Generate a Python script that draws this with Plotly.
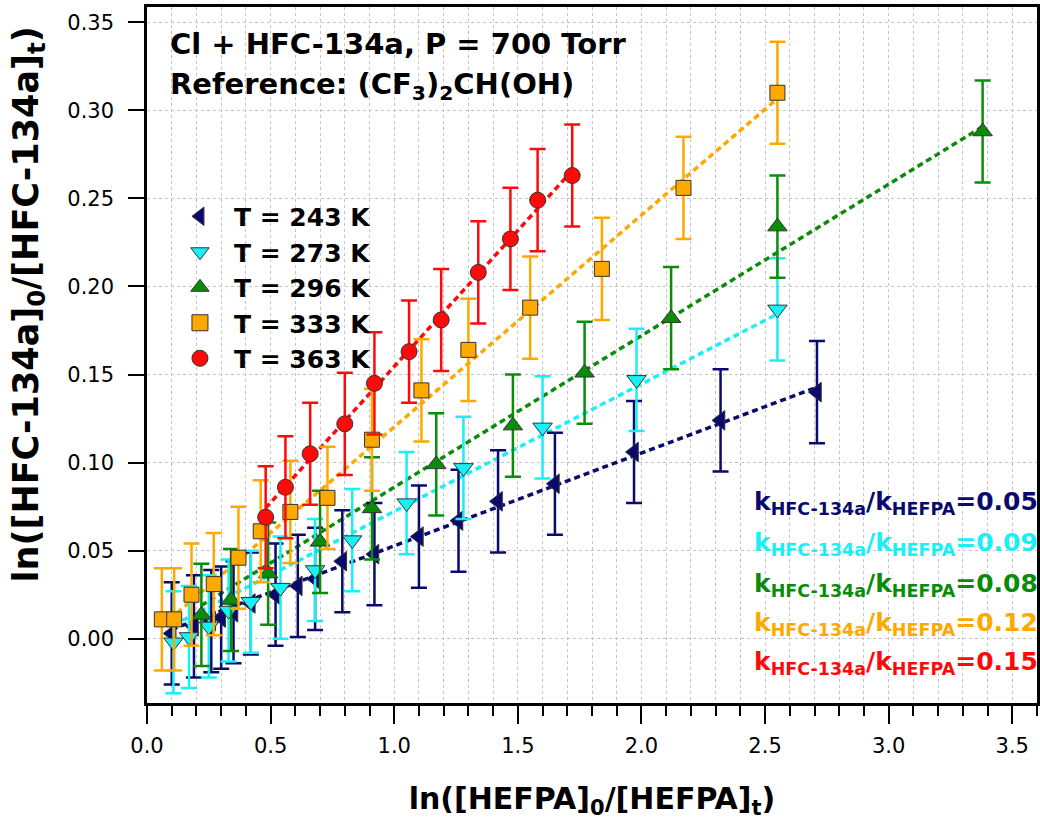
import numpy as np
import plotly.graph_objects as go

# ---------------- data ----------------
x_243 = [0.10, 0.19, 0.26, 0.30, 0.35, 0.42, 0.52, 0.61, 0.68, 0.79, 0.92, 1.10, 1.26, 1.42, 1.65, 1.97, 2.32, 2.71]
y_243 = [0.003, 0.007, 0.010, 0.012, 0.015, 0.020, 0.025, 0.030, 0.034, 0.044, 0.048, 0.058, 0.067, 0.078, 0.088, 0.106, 0.124, 0.140]
e_243 = [0.029, 0.029, 0.029, 0.029, 0.029, 0.029, 0.029, 0.029, 0.029, 0.029, 0.029, 0.029, 0.029, 0.029, 0.029, 0.029, 0.029, 0.029]

x_273 = [0.107, 0.17, 0.25, 0.33, 0.42, 0.54, 0.68, 0.83, 1.05, 1.28, 1.60, 1.98, 2.55]
y_273 = [-0.002, 0.001, 0.007, 0.016, 0.021, 0.029, 0.039, 0.056, 0.077, 0.097, 0.120, 0.147, 0.187]
e_273 = [0.029, 0.029, 0.029, 0.029, 0.029, 0.029, 0.029, 0.029, 0.029, 0.029, 0.029, 0.029, 0.029]

x_296 = [0.22, 0.34, 0.49, 0.70, 0.91, 1.17, 1.48, 1.77, 2.12, 2.55, 3.38]
y_296 = [0.0135, 0.022, 0.037, 0.055, 0.074, 0.099, 0.121, 0.151, 0.182, 0.234, 0.288]
e_296 = [0.029, 0.029, 0.029, 0.029, 0.029, 0.029, 0.029, 0.029, 0.029, 0.029, 0.029]

x_333 = [0.06, 0.11, 0.18, 0.27, 0.37, 0.46, 0.58, 0.73, 0.91, 1.11, 1.30, 1.55, 1.84, 2.17, 2.55]
y_333 = [0.011, 0.011, 0.025, 0.031, 0.046, 0.061, 0.072, 0.080, 0.113, 0.141, 0.164, 0.188, 0.210, 0.256, 0.310]
e_333 = [0.029, 0.029, 0.029, 0.029, 0.029, 0.029, 0.029, 0.029, 0.029, 0.029, 0.029, 0.029, 0.029, 0.029, 0.029]

x_363 = [0.48, 0.56, 0.66, 0.80, 0.92, 1.06, 1.19, 1.34, 1.47, 1.58, 1.72]
y_363 = [0.069, 0.086, 0.105, 0.122, 0.145, 0.163, 0.181, 0.208, 0.227, 0.249, 0.263]
e_363 = [0.029, 0.029, 0.029, 0.029, 0.029, 0.029, 0.029, 0.029, 0.029, 0.029, 0.029]

labels = ["T = 243 K", "T = 273 K", "T = 296 K", "T = 333 K", "T = 363 K"]
ratios = ["0.05", "0.09", "0.08", "0.12", "0.15"]

# ---------------- styles ----------------
colors = ["#0a0a6e", "#19f0f5", "#0a8c0a", "#ffa800", "#ff0a0a"]
symbols = ["triangle-left", "triangle-down", "triangle-up", "square", "circle"]
msizes = [17, 17, 17, 15, 16]
BOLD = "DejaVu Sans, Liberation Sans, Arial, sans-serif"
TICK = "DejaVu Sans, Liberation Sans, Arial, sans-serif"

series = [(x_243, y_243, e_243), (x_273, y_273, e_273), (x_296, y_296, e_296),
          (x_333, y_333, e_333), (x_363, y_363, e_363)]

fig = go.Figure()

# dotted fit lines (least squares through the origin, spanning the data)
for (xs, ys, es), col in zip(series, colors):
    xa = np.array(xs); ya = np.array(ys)
    k = float(np.sum(xa * ya) / np.sum(xa * xa))
    xl = np.array([xa.min(), xa.max()])
    fig.add_trace(go.Scatter(x=xl, y=k * xl, mode="lines",
                             line=dict(color=col, width=3.5, dash="6px,4px"),
                             showlegend=False, hoverinfo="skip"))

# error bars + markers
for (xs, ys, es), lab, col, sym, ms in zip(series, labels, colors, symbols, msizes):
    fig.add_trace(go.Scatter(
        x=xs, y=ys, mode="markers", name="<b>" + lab + "</b>",
        marker=dict(symbol=sym, size=ms, color=col, line=dict(color="#333333", width=1)),
        error_y=dict(type="data", array=es, visible=True, color=col, thickness=2.5, width=8),
        showlegend=False,
    ))

# legend entries
for lab, col, sym in zip(labels, colors, symbols):
    fig.add_trace(go.Scatter(
        x=[None], y=[None], mode="markers", name="<b>" + lab + "</b>",
        marker=dict(symbol=sym, size=20, color=col, line=dict(color="#333333", width=1)),
    ))

# k ratio annotations
ann_y = [0.288, 0.228, 0.170, 0.113, 0.057]
for r, col, ay in zip(ratios, colors, ann_y):
    fig.add_annotation(
        xref="paper", yref="paper", x=1.003, y=ay, xanchor="right", yanchor="middle",
        text="<b>k<sub>HFC-134a</sub>/k<sub>HEFPA</sub>=" + r + "</b>",
        showarrow=False, font=dict(family=BOLD, size=25, color=col))

fig.add_annotation(xref="paper", yref="paper", x=0.024, y=0.947, xanchor="left", yanchor="middle",
                   text="<b>Cl + HFC-134a, P = 700 Torr</b>", showarrow=False,
                   font=dict(family=BOLD, size=29, color="black"))
fig.add_annotation(xref="paper", yref="paper", x=0.024, y=0.886, xanchor="left", yanchor="middle",
                   text="<b>Reference: (CF<sub>3</sub>)<sub>2</sub>CH(OH)</b>", showarrow=False,
                   font=dict(family=BOLD, size=29, color="black"))

# y-axis title as rotated annotation
fig.add_annotation(xref="paper", yref="paper", x=-0.133, y=0.572, xanchor="center", yanchor="middle",
                   textangle=-90, showarrow=False,
                   text="<b>ln([HFC-134a]<sub>0</sub>/[HFC-134a]<sub>t</sub>)</b>",
                   font=dict(family=BOLD, size=35, color="black"))

grid = dict(showgrid=True, gridcolor="#c4c4c4", gridwidth=1, griddash="3px,3px")

fig.update_xaxes(
    range=[0, 3.6], dtick=0.5, tick0=0, tickformat=".1f",
    ticks="outside", ticklen=18, tickwidth=2, tickcolor="black",
    showline=True, linewidth=2.5, linecolor="black", mirror=True, zeroline=False,
    tickfont=dict(family=TICK, size=21, color="black"), ticklabelstandoff=4,
    minor=dict(dtick=0.1, ticks="outside", ticklen=10, tickwidth=2, tickcolor="black", **grid),
    title=dict(text="<b>ln([HEFPA]<sub>0</sub>/[HEFPA]<sub>t</sub>)</b>",
               font=dict(family=BOLD, size=30, color="black"), standoff=34),
    **grid,
)
fig.update_yaxes(
    range=[-0.0365, 0.3587], dtick=0.05, tick0=0, tickformat=".2f",
    ticks="outside", ticklen=16, tickwidth=2, tickcolor="black",
    showline=True, linewidth=2.5, linecolor="black", mirror=True, zeroline=False,
    tickfont=dict(family=TICK, size=21, color="black"), ticklabelstandoff=10,
    **grid,
)

fig.update_layout(
    width=1040, height=820,
    margin=dict(l=147, r=0, t=7, b=117),
    plot_bgcolor="white", paper_bgcolor="white",
    font=dict(family=BOLD, color="black"),
    legend=dict(x=0.0213, y=0.732, xanchor="left", yanchor="top",
                bgcolor="rgba(0,0,0,0)", font=dict(family=BOLD, size=25, color="black"),
                itemwidth=58, itemsizing="trace", tracegroupgap=0),
)

fig.write_html("out.html")
